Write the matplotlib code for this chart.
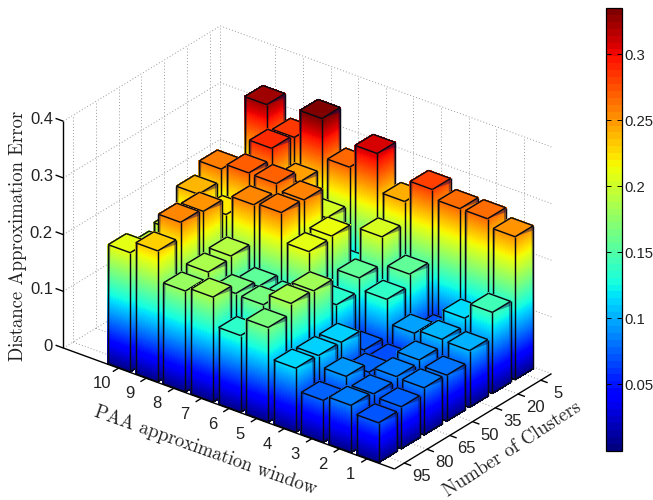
import numpy as np
import matplotlib
matplotlib.use("Agg")
import matplotlib.pyplot as plt
from matplotlib.cm import ScalarMappable
from matplotlib.colors import Normalize
from mpl_toolkits.mplot3d import proj3d
from mpl_toolkits.mplot3d.art3d import Poly3DCollection, Line3DCollection

plt.rcParams["font.family"] = ["Liberation Sans", "DejaVu Sans"]

paa_labels = ["10", "9", "8", "7", "6", "5", "4", "3", "2", "1"]
cluster_labels = ["95", "80", "65", "50", "35", "20", "5"]
z_ticks = [0, 0.1, 0.2, 0.3, 0.4]
cbar_ticks = [0.05, 0.1, 0.15, 0.2, 0.25, 0.3]

# one row per PAA window, columns follow cluster_labels
paa_10 = [0.210, 0.190, 0.200, 0.240, 0.260, 0.220, 0.325]
paa_9 = [0.231, 0.257, 0.252, 0.222, 0.271, 0.290, 0.285]
paa_8 = [0.178, 0.187, 0.191, 0.257, 0.270, 0.248, 0.336]
paa_7 = [0.185, 0.167, 0.155, 0.261, 0.259, 0.203, 0.268]
paa_6 = [0.135, 0.165, 0.149, 0.210, 0.213, 0.130, 0.310]
paa_5 = [0.167, 0.185, 0.183, 0.134, 0.157, 0.205, 0.243]
paa_4 = [0.113, 0.111, 0.110, 0.072, 0.137, 0.157, 0.282]
paa_3 = [0.074, 0.092, 0.075, 0.067, 0.095, 0.070, 0.266]
paa_2 = [0.083, 0.079, 0.085, 0.090, 0.102, 0.115, 0.266]
paa_1 = [0.070, 0.074, 0.083, 0.081, 0.100, 0.143, 0.252]
errors = [paa_10, paa_9, paa_8, paa_7, paa_6, paa_5, paa_4, paa_3, paa_2, paa_1]

XMIN, XMAX = -2.0, 10.0
YMIN, YMAX = -0.43, 6.47
ZMAX = 0.4
HALF = 0.4
BOX = (419, 256, 257)
NAVY = (0.02, 0.02, 0.35, 0.4)

norm = Normalize(0, 0.335)
smooth = plt.get_cmap("jet", 256)
bands = plt.get_cmap("jet", 64)

fig = plt.figure(figsize=(6.53, 5), dpi=100)
ax = fig.add_axes([0.0, 0.0, 1.0, 1.0], projection="3d")
ax.set_proj_type("ortho")
ax.view_init(elev=28.1, azim=-52.2)
ax.computed_zorder = False
ax.set_axis_off()
ax.set_xlim(XMIN, XMAX, view_margin=0)
ax.set_ylim(YMIN, YMAX, view_margin=0)
ax.set_zlim(0, ZMAX, view_margin=0)
ax.set_box_aspect(BOX)

# dotted grid on floor and back walls
grid = dict(color="#9a9a9a", lw=0.7, ls=(0, (1, 2.2)), zorder=1, clip_on=False)
for z in z_ticks:
    ax.plot([XMIN, XMIN], [YMIN, YMAX], [z, z], **grid)
    ax.plot([XMIN, XMAX], [YMAX, YMAX], [z, z], **grid)
for x in range(len(paa_labels)):
    ax.plot([x, x], [YMIN, YMAX], [0, 0], **grid)
    ax.plot([x, x], [YMAX, YMAX], [0, ZMAX], **grid)
for y in range(len(cluster_labels)):
    ax.plot([XMIN, XMAX], [y, y], [0, 0], **grid)
    ax.plot([XMIN, XMIN], [y, y], [0, ZMAX], **grid)
ax.plot([XMIN, XMIN], [YMAX, YMAX], [0, ZMAX], **grid)

# bars, painted back to front
order = 10
for i, row in enumerate(errors):
    for j in range(len(row) - 1, -1, -1):
        h = row[j]
        x0, x1 = i - HALF, i + HALF
        y0, y1 = j - HALF, j + HALF
        levels = np.linspace(0, h, int(h / 0.0018) + 2)
        polys, colors = [], []
        for lo, hi in zip(levels[:-1], levels[1:]):
            c = smooth(norm((lo + hi) / 2))
            polys.append([(x0, y0, lo), (x1, y0, lo), (x1, y0, hi), (x0, y0, hi)])
            colors.append(c)
            polys.append([(x1, y0, lo), (x1, y1, lo), (x1, y1, hi), (x1, y0, hi)])
            colors.append(c)
        polys.append([(x0, y0, h), (x1, y0, h), (x1, y1, h), (x0, y1, h)])
        colors.append(smooth(norm(h)))
        faces = Poly3DCollection(polys, facecolors=colors, edgecolors=colors, linewidths=0.5)
        faces.set_antialiased(False)
        faces.set_zorder(order)
        faces.set_clip_on(False)
        ax.add_collection3d(faces, autolim=False)
        # dark wedges that the interpolated shading leaves along the outer edges
        wedges = [
            [(x1, y0, h), (x1, y1, h), (x1, y1, h - 0.008)],
            [(x1, y1, h), (x1, y1, 0), (x1, y1 - 0.08, h)],
            [(x0, y0, h), (x0, y0, 0), (x0 + 0.08, y0, h)],
        ]
        shade = Poly3DCollection(wedges, facecolors=[NAVY] * 3, edgecolors="none")
        shade.set_zorder(order)
        shade.set_clip_on(False)
        ax.add_collection3d(shade, autolim=False)
        edges = [
            [(x0, y0, 0), (x1, y0, 0)], [(x1, y0, 0), (x1, y1, 0)],
            [(x0, y0, 0), (x0, y0, h)], [(x1, y0, 0), (x1, y0, h)], [(x1, y1, 0), (x1, y1, h)],
            [(x0, y0, h), (x1, y0, h)], [(x1, y0, h), (x1, y1, h)],
            [(x1, y1, h), (x0, y1, h)], [(x0, y1, h), (x0, y0, h)],
        ]
        lines = Line3DCollection(edges, colors="#0a0a14", linewidths=1.05)
        lines.set_zorder(order + 1)
        lines.set_clip_on(False)
        ax.add_collection3d(lines, autolim=False)
        order += 2

# solid axes and ticks
axis = dict(color="black", lw=1.0, zorder=order, clip_on=False, solid_capstyle="butt")
ax.plot([XMIN, XMAX], [YMIN, YMIN], [0, 0], **axis)
ax.plot([XMAX, XMAX], [YMIN, YMAX], [0, 0], **axis)
ax.plot([XMIN, XMIN], [YMIN, YMIN], [0, ZMAX], **axis)
for x in range(len(paa_labels)):
    ax.plot([x, x], [YMIN, YMIN - 0.25], [0, 0], **axis)
for y in range(len(cluster_labels)):
    ax.plot([XMAX, XMAX + 0.25], [y, y], [0, 0], **axis)
for z in z_ticks:
    ax.plot([XMIN, XMIN - 0.28], [YMIN, YMIN], [z, z], **axis)


def to_px(x, y, z):
    xp, yp, _ = proj3d.proj_transform(x, y, z, ax.get_proj())
    return ax.transData.transform((xp, yp))


# fit the 3d box onto the reference pixels
fig.canvas.draw()
a = to_px(XMIN, YMIN, 0)
b = to_px(XMAX, YMIN, 0)
ax.set_box_aspect(BOX, zoom=(394.5 - 63.3) / (b[0] - a[0]))
fig.canvas.draw()
a = to_px(XMIN, YMIN, 0)
pos = ax.get_position()
ax.set_position([pos.x0 + (63.3 - a[0]) / 653, pos.y0 + (500 - 348 - a[1]) / 500, pos.width, pos.height])
fig.canvas.draw()


def tick_text(px, py, s, **kw):
    fig.text(px / 653, py / 500, s, fontsize=12, color="#222222", va="center", **kw)


for x, lab in enumerate(paa_labels):
    p = to_px(x, YMIN, 0)
    tick_text(p[0] - 16.5, p[1] - 15.6, lab, ha="center")
for y, lab in enumerate(cluster_labels):
    p = to_px(XMAX, y, 0)
    tick_text(p[0] + 17, p[1] - 13.4, lab, ha="center")
for z in z_ticks:
    p = to_px(XMIN, YMIN, z)
    tick_text(53, p[1] + 1.5, f"{z:g}", ha="right")

label = dict(family="cmr10", fontsize=13.5, color="#222222", ha="center", va="center")
fig.text(18 / 653, 1 - 236 / 500, "Distance Approximation Error", rotation=90, **label)
fig.text(205 / 653, 1 - 451 / 500, "PAA approximation window", rotation=-19.5, rotation_mode="anchor", **label)
fig.text(512 / 653, 1 - 449 / 500, "Number of Clusters", rotation=33, rotation_mode="anchor", **label)

cax = fig.add_axes([605.5 / 653, 1 - 450.5 / 500, 16.5 / 653, 442.5 / 500])
cb = fig.colorbar(ScalarMappable(norm=norm, cmap=bands), cax=cax, ticks=cbar_ticks)
cb.ax.set_yticklabels([f"{t:g}" for t in cbar_ticks], fontsize=10.7, color="#222222")
cb.ax.tick_params(direction="in", length=3.5, width=0.7, left=True, right=True, pad=1.5)
cb.outline.set_linewidth(0.9)

fig.savefig("out.png", dpi=100)
